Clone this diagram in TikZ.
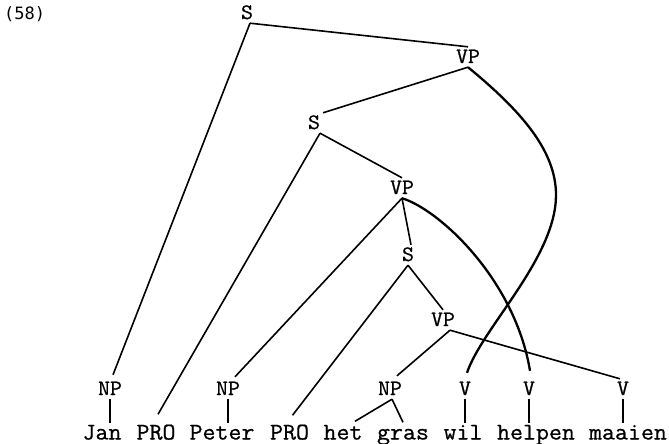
\documentclass[tikz,border=0pt]{standalone}
\usepackage{fontspec}
\newfontfamily\numfont{DejaVu Sans Mono}
\newfontfamily\twfont[FakeBold=0.8, FakeStretch=1.05]{Latin Modern Mono}
\usetikzlibrary{calc}
\begin{document}
\begin{tikzpicture}[x=1pt,y=-1pt,
  lab/.style={font=\fontsize{22}{22}\selectfont\twfont, inner sep=0pt, text height=12pt, text depth=0pt, minimum height=20pt},
  word/.style={font=\fontsize{24}{24}\selectfont\twfont, inner sep=0pt, text height=16pt, text depth=0pt, anchor=base},
  edge/.style={line width=1.6pt},
  curvy/.style={line width=2.3pt}]
\useasboundingbox (0,0) rectangle (669,444);
\node[font=\fontsize{17}{17}\selectfont\numfont, anchor=west, inner sep=0pt] (num) at (4,14) {(58)};
% labels
\node[lab] (S0) at (247,13) {S};
\node[lab] (VP1) at (468,57) {VP};
\node[lab] (S2) at (314,123) {S};
\node[lab] (VP2) at (402,188) {VP};
\node[lab] (S3) at (408,255) {S};
\node[lab] (VP3) at (443,320) {VP};
\node[lab] (NPj) at (110,389) {NP};
\node[lab] (NPp) at (228,389) {NP};
\node[lab] (NPh) at (390,389) {NP};
\node[lab] (Vw) at (465,389) {V};
\node[lab] (Vh) at (529,389) {V};
\node[lab] (Vm) at (623,389) {V};
% words
\node[word] (Jan) at (102,439.5) {Jan};
\node[word] (PROa) at (156,439.5) {PRO};
\node[word] (Peter) at (222,439.5) {Peter};
\node[word] (PROb) at (289.5,439.5) {PRO};
\node[word] (het) at (343,439.5) {het};
\node[word] (gras) at (403,439.5) {gras};
\node[word] (wil) at (463,439.5) {wil};
\node[word] (helpen) at (536,439.5) {helpen};
\node[word] (maaien) at (628,439.5) {maaien};
% connector points
\coordinate (S0b) at ($(S0.south)+(3,0)$);
\coordinate (S2b) at ($(S2.south)+(6,0)$);
\coordinate (S2t) at ($(S2.north)+(9,0)$);
\coordinate (VP3b) at ($(VP3.south)+(7,0)$);
\coordinate (NPhb) at ($(NPh.south)+(2,0)$);
% edges
\draw[edge] (S0b) -- (VP1.north);
\draw[edge] (S0b) -- ($(NPj.north)+(3,-4)$);
\draw[edge] (VP1.south) -- (S2t);
\draw[edge] (S2b) -- ($(PROa.north)+(2,-9)$);
\draw[edge] (S2b) -- (VP2.north);
\draw[edge] (VP2.south) -- ($(NPp.north)+(7,-2)$);
\draw[edge] (VP2.south) -- ($(S3.north)+(3,0)$);
\draw[edge] (S3.south) -- ($(PROb.north)+(3,-8)$);
\draw[edge] (S3.south) -- (VP3.north);
\draw[edge] (VP3b) -- ($(NPh.north)+(7,-3)$);
\draw[edge] (VP3b) -- ($(Vm.north)+(-3,0)$);
\draw[curvy] (VP1.south) .. controls (520,110) and (556,150) .. (556,195)
  .. controls (556,258) and (482,328) .. ($(Vw.north)+(2,-6)$);
\draw[curvy] (VP2.south) .. controls (440,210) and (515,280) .. ($(Vh.north)+(1,-8)$);
\draw[edge] (NPhb) -- ($(het.north)+(12,-2)$);
\draw[edge] (NPhb) -- ($(gras.north)+(0,-1)$);
\draw[edge] (NPj.south) -- (NPj.south |- Jan.north);
\draw[edge] (NPp.south) -- (NPp.south |- Peter.north);
\draw[edge] (Vw.south) -- (Vw.south |- wil.north);
\draw[edge] (Vh.south) -- (Vh.south |- helpen.north);
\draw[edge] (Vm.south) -- (Vm.south |- maaien.north);
\end{tikzpicture}
\end{document}
